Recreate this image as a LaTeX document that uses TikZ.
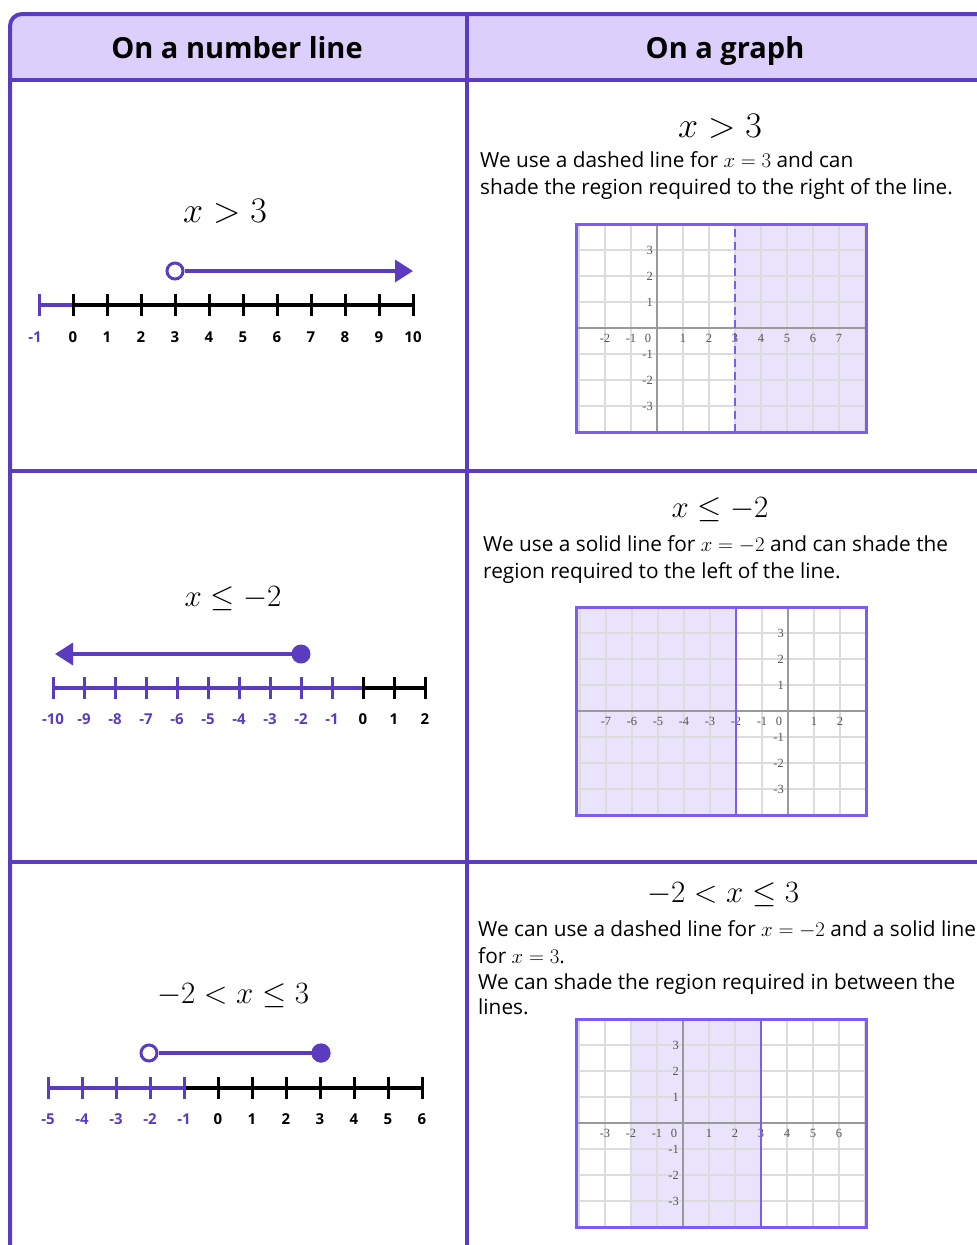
\RequirePackage{fix-cm}
\documentclass[tikz,border=0pt]{standalone}
\usepackage{fontspec}
\setmainfont{Open Sans}
\newfontfamily\graphfont{Liberation Serif}
\usetikzlibrary{arrows.meta}
\definecolor{tborder}{HTML}{5B3CC0}
\definecolor{thead}{HTML}{DCCFFB}
\definecolor{nlpurple}{HTML}{5B3CC0}
\definecolor{gborder}{HTML}{7C5CF2}
\definecolor{gshade}{HTML}{EAE3FC}
\definecolor{ggrid}{HTML}{DCDCDC}
\definecolor{gaxis}{HTML}{9A9A9A}
\definecolor{glabel}{HTML}{555555}
\tikzset{
  hdr/.style={font=\fontsize{29}{32}\selectfont\bfseries, text=black, anchor=base},
  bigmath/.style={font=\fontsize{36}{40}\selectfont, inner sep=0pt, anchor=base},
  midmath/.style={font=\fontsize{31}{36}\selectfont, inner sep=0pt, anchor=base},
  body/.style={font=\fontsize{20.8}{24}\selectfont, anchor=base west, inner sep=0pt},
  nllab/.style={font=\fontsize{15}{16}\selectfont\bfseries, inner sep=0pt},
  nlline/.style={line width=3.5pt},
  tick/.style={line width=3pt},
  opendot/.style={circle, draw=nlpurple, fill=white, line width=3pt, inner sep=0pt, minimum size=16pt},
  fulldot/.style={circle, fill=nlpurple, inner sep=0pt, minimum size=19pt},
  arrowline/.style={nlpurple, line width=3.5pt},
  glab/.style={font=\graphfont\fontsize{12.5}{12.5}\selectfont, text=glabel, inner sep=0pt},
  gridln/.style={ggrid, line width=1.5pt},
  axisln/.style={gaxis, line width=2.5pt},
  gframe/.style={gborder, line width=3pt},
  tline/.style={tborder, line width=4pt},
}
\begin{document}
\begin{tikzpicture}[x=1pt,y=-1pt]
\useasboundingbox (0,0) rectangle (977,1245);
\clip (0,0) rectangle (977,1245);
\fill[white] (0,0) rectangle (977,1245);
% ---------- table ----------
\fill[thead] (10,80) [rounded corners=12pt] -- (10,14) [sharp corners] -- (1000,14) -- (1000,80) -- cycle;
\draw[tline] (10,1270) [rounded corners=12pt] -- (10,14) [sharp corners] -- (1000,14);
\draw[tline] (10,80) -- (1000,80);
\draw[tline] (10,471) -- (1000,471);
\draw[tline] (10,862) -- (1000,862);
\draw[tline] (467,14) -- (467,1270);
\node[hdr] (h1) at (237,58) {On a number line};
\node[hdr] (h2) at (725,58) {On a graph};

% ---------- row 1 left ----------
\node[bigmath] (m1) at (225,222) {$x>3$};
\draw[nlpurple, nlline] (39,305) -- (73,305);
\draw[black, nlline] (73,305) -- (413,305);
\draw[nlpurple, tick] (39,294) -- (39,316);
\foreach \v in {0,...,10} \draw[black, tick] ({73+\v*34},294) -- ({73+\v*34},316);
\node[nllab, text=nlpurple] (a1lm1) at (35,337) {-1};
\foreach \v in {0,...,10} \node[nllab] (a1l\v) at ({73+\v*34},337) {\v};
\coordinate (a1tip) at (413,271);
\node[opendot] (a1o) at (175,271) {};
\draw[arrowline, -{Triangle[length=18pt,width=22pt]}] (a1o.east) -- (a1tip);

% ---------- row 1 right ----------
\node[bigmath] (m1r) at (720,137) {$x>3$};
\node[body] (t1a) at (480,167) {We use a dashed line for $x=3$ and can};
\node[body] (t1b) at (480,194) {shade the region required to the right of the line.};
\begin{scope}[shift={(657,328)}, x=26pt, y=26pt]
  \fill[white] (-3.1,-4) rectangle (8.05,4);
  \fill[gshade] (3,-4) rectangle (8.05,4);
  \begin{scope}
    \clip (-3.1,-4) rectangle (8.05,4);
    \foreach \i in {-3,...,8} \draw[gridln] (\i,-4) -- (\i,4);
    \foreach \j in {-4,...,4} \draw[gridln] (-3.1,\j) -- (8.05,\j);
  \end{scope}
  \draw[axisln] (0,-4) -- (0,4);
  \draw[axisln] (-3.1,0) -- (8.05,0);
  \foreach \i/\n in {-2/a,-1/b,1/c,2/d,3/e,4/f,5/g,6/h,7/i} \node[glab] (g1x\n) at (\i,-0.4) {\i};
  \node[glab] (g1x0) at (-0.35,-0.4) {0};
  \foreach \j/\n in {3/a,2/b,1/c,-1/d,-2/e,-3/f} \node[glab, anchor=east] (g1y\n) at (-0.15,\j) {\j};
  \draw[gborder, line width=2pt, dash pattern=on 8pt off 5pt] (3,-4) -- (3,4);
  \draw[gframe] (-3.1,-4) rectangle (8.05,4);
\end{scope}

% ---------- row 2 left ----------
\node[midmath] (m2) at (233,606) {$x\leq -2$};
\draw[nlpurple, nlline] (53,688) -- (363,688);
\draw[black, nlline] (363,688) -- (425,688);
\foreach \v in {-10,...,-1} \draw[nlpurple, tick] ({363+\v*31},677) -- ({363+\v*31},699);
\foreach \v in {0,1,2} \draw[black, tick] ({363+\v*31},677) -- ({363+\v*31},699);
\foreach \v/\n in {-10/a,-9/b,-8/c,-7/d,-6/e,-5/f,-4/g,-3/h,-2/i,-1/j} \node[nllab, text=nlpurple] (a2l\n) at ({363+\v*31},719) {\v};
\foreach \v/\n in {0/k,1/l,2/m} \node[nllab] (a2l\n) at ({363+\v*31},719) {\v};
\coordinate (a2tip) at (55,654);
\node[fulldot] (a2f) at (301,654) {};
\draw[arrowline, -{Triangle[length=18pt,width=22pt]}] (a2f.center) -- (a2tip);

% ---------- row 2 right ----------
\node[midmath] (m2r) at (720,517) {$x\leq -2$};
\node[body] (t2a) at (483,551) {We use a solid line for $x=-2$ and can shade the};
\node[body] (t2b) at (483,578) {region required to the left of the line.};
\begin{scope}[shift={(788,711)}, x=26pt, y=26pt]
  \fill[white] (-8.15,-4) rectangle (3,4);
  \fill[gshade] (-8.15,-4) rectangle (-2,4);
  \begin{scope}
    \clip (-8.15,-4) rectangle (3,4);
    \foreach \i in {-8,...,3} \draw[gridln] (\i,-4) -- (\i,4);
    \foreach \j in {-4,...,4} \draw[gridln] (-8.15,\j) -- (3,\j);
  \end{scope}
  \draw[axisln] (0,-4) -- (0,4);
  \draw[axisln] (-8.15,0) -- (3,0);
  \foreach \i/\n in {-7/a,-6/b,-5/c,-4/d,-3/e,-2/f,-1/g,1/h,2/i} \node[glab] (g2x\n) at (\i,-0.4) {\i};
  \node[glab] (g2x0) at (-0.35,-0.4) {0};
  \foreach \j/\n in {3/a,2/b,1/c,-1/d,-2/e,-3/f} \node[glab, anchor=east] (g2y\n) at (-0.15,\j) {\j};
  \draw[gborder, line width=2.5pt] (-2,-4) -- (-2,4);
  \draw[gframe] (-8.15,-4) rectangle (3,4);
\end{scope}

% ---------- row 3 left ----------
\node[midmath] (m3) at (233,1003) {$-2<x\leq 3$};
\draw[nlpurple, nlline] (48,1088) -- (184,1088);
\draw[black, nlline] (184,1088) -- (422,1088);
\foreach \v in {-5,...,-1} \draw[nlpurple, tick] ({218+\v*34},1077) -- ({218+\v*34},1099);
\foreach \v in {0,...,6} \draw[black, tick] ({218+\v*34},1077) -- ({218+\v*34},1099);
\foreach \v/\n in {-5/a,-4/b,-3/c,-2/d,-1/e} \node[nllab, text=nlpurple] (a3l\n) at ({218+\v*34},1119) {\v};
\foreach \v/\n in {0/f,1/g,2/h,3/i,4/j,5/k,6/l} \node[nllab] (a3l\n) at ({218+\v*34},1119) {\v};
\node[fulldot] (a3f) at (321,1053) {};
\node[opendot] (a3o) at (149,1053) {};
\draw[arrowline] (a3o.east) -- (a3f.center);
\node[fulldot] (a3f2) at (321,1053) {};

% ---------- row 3 right ----------
\node[midmath] (m3r) at (723,902) {$-2<x\leq 3$};
\node[body] (t3a) at (478,936) {We can use a dashed line for $x=-2$ and a solid line};
\node[body] (t3b) at (478,963) {for $x=3$.};
\node[body] (t3c) at (478,989) {We can shade the region required in between the};
\node[body] (t3d) at (478,1014) {lines.};
\begin{scope}[shift={(683,1123)}, x=26pt, y=26pt]
  \fill[white] (-4.1,-4) rectangle (7.05,4);
  \fill[gshade] (-2,-4) rectangle (3,4);
  \begin{scope}
    \clip (-4.1,-4) rectangle (7.05,4);
    \foreach \i in {-4,...,7} \draw[gridln] (\i,-4) -- (\i,4);
    \foreach \j in {-4,...,4} \draw[gridln] (-4.1,\j) -- (7.05,\j);
  \end{scope}
  \draw[axisln] (0,-4) -- (0,4);
  \draw[axisln] (-4.1,0) -- (7.05,0);
  \foreach \i/\n in {-3/a,-2/b,-1/c,1/d,2/e,3/f,4/g,5/h,6/i} \node[glab] (g3x\n) at (\i,-0.4) {\i};
  \node[glab] (g3x0) at (-0.35,-0.4) {0};
  \foreach \j/\n in {3/a,2/b,1/c,-1/d,-2/e,-3/f} \node[glab, anchor=east] (g3y\n) at (-0.15,\j) {\j};
  \draw[gborder, line width=2.5pt] (3,-4) -- (3,4);
  \draw[gframe] (-4.1,-4) rectangle (7.05,4);
\end{scope}
\end{tikzpicture}
\end{document}
